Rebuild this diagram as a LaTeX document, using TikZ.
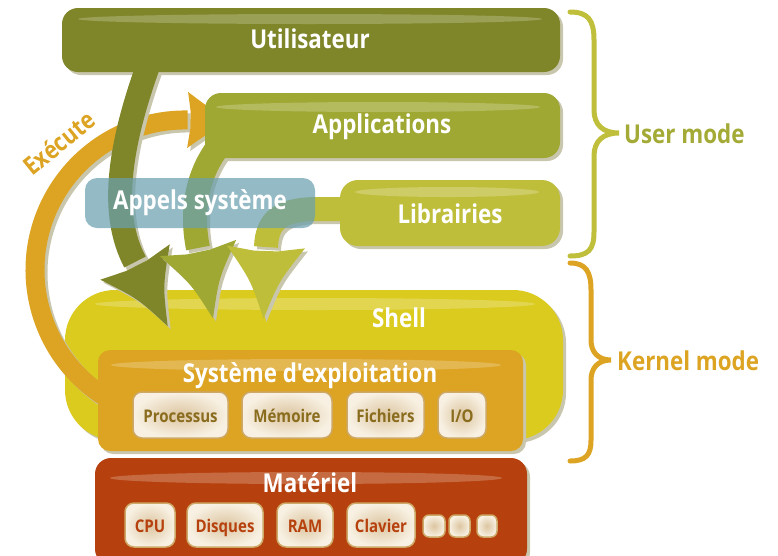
\documentclass[tikz,border=0pt]{standalone}
\usepackage{fontspec}
\newfontfamily\cf[FakeStretch=0.86]{Open Sans}
\usetikzlibrary{calc}
\definecolor{oliveA}{HTML}{7F8629}
\definecolor{oliveB}{HTML}{9FA833}
\definecolor{oliveC}{HTML}{BFBE3B}
\definecolor{appelsc}{HTML}{6AA0AE}
\definecolor{shellc}{HTML}{DBCB1F}
\definecolor{osc}{HTML}{DCA422}
\definecolor{hwc}{HTML}{B7410E}
\definecolor{subin}{HTML}{DCC5A0}
\definecolor{subout}{HTML}{F8F1E3}
\definecolor{subline}{HTML}{CDA866}
\definecolor{ostext}{HTML}{8A6C1E}
\definecolor{shadowc}{HTML}{C9C6AE}
\definecolor{bracec}{HTML}{C0BF3B}
\definecolor{usertext}{HTML}{A3AA35}
\newcommand\pshadow[6]{\node[rectangle, rounded corners=#6pt, fill=shadowc, minimum width=#4pt, minimum height=#5pt, inner sep=0pt] (#1-sh) at (#2+3,#3+3) {};}
\newcommand\pbox[7]{\node[rectangle, rounded corners=#6pt, fill=#7, minimum width=#4pt, minimum height=#5pt, inner sep=0pt] (#1) at (#2,#3) {};}
\newcommand\gloss[4]{\fill[white, opacity=0.22] (#1,#2) ellipse [x radius=#3, y radius=#4];}
\tikzset{
  ahead/.pic={\path[pic actions] (4,-12) -- (0,-39) .. controls (34,-14) .. (72,0) .. controls (34,14) .. (0,39) -- (4,12) -- cycle;},
  lbl/.style={font=\cf\bfseries\fontsize{26}{26}\selectfont, text=white, anchor=base, inner sep=0pt},
  subbox/.style={rectangle, rounded corners=9pt, draw=subline, line width=1.5pt, shading=radial, inner color=subin, outer color=subout, inner sep=0pt},
  subtxt/.style={font=\cf\bfseries\fontsize{17.5}{17.5}\selectfont, anchor=base, inner sep=0pt},
  shaftline/.style={line width=24pt},
  bracelines/.style={line width=5pt, line cap=round},
}
\begin{document}
\begin{tikzpicture}[x=1pt,y=-1pt]
\useasboundingbox (0,0) rectangle (778,555);
\clip (0,0) rectangle (778,555);
% Shell
\pshadow{shell}{314}{365}{498}{150}{50}
\pbox{shell}{314}{365}{498}{150}{50}{shellc}
\gloss{315}{304}{220}{6}
\node[lbl] (shellt) at (399,327) {Shell};
% Execute arc
\coordinate (ex-s) at (114.6,402.4);
\coordinate (ex-e) at (187.6,120);
\begin{scope}[transform canvas={shift={(3pt,-3pt)}}]
\draw[shadowc, line width=19pt] (ex-s) arc[start angle=118, end angle=271, radius=150];
\pic[rotate=-1, scale=0.72, fill=shadowc] at (ex-e) {ahead};
\end{scope}
\draw[osc, line width=19pt] (ex-s) arc[start angle=118, end angle=271, radius=150];
\pic[rotate=-1, scale=0.72, fill=osc] at (ex-e) {ahead};
% Utilisateur
\coordinate (a1s) at (148,66);
\coordinate (a1e) at (135,262);
\pshadow{user}{311}{40}{498}{64}{16}
\begin{scope}[transform canvas={shift={(3pt,-3pt)}}]
\draw[shaftline, shadowc] (a1s) .. controls (118,150) and (110,215) .. (a1e);
\pic[rotate=-63, fill=shadowc] at (a1e) {ahead};
\end{scope}
\draw[shaftline, oliveA] (a1s) .. controls (118,150) and (110,215) .. (a1e);
\pic[rotate=-63, fill=oliveA] at (a1e) {ahead};
\pbox{user}{311}{40}{498}{64}{16}{oliveA}
\gloss{310}{19}{232}{5}
\node[lbl] (usert) at (310,48) {Utilisateur};
% Applications
\coordinate (a2s) at (224,140);
\coordinate (a2e) at (198,248);
\pshadow{apps}{382.5}{125.5}{355}{65}{16}
\begin{scope}[transform canvas={shift={(3pt,-3pt)}}]
\draw[shaftline, shadowc] (a2s) .. controls (195,172) and (191,214) .. (a2e);
\pic[rotate=-78, fill=shadowc] at (a2e) {ahead};
\end{scope}
\draw[shaftline, oliveB] (a2s) .. controls (195,172) and (191,214) .. (a2e);
\pic[rotate=-78, fill=oliveB] at (a2e) {ahead};
\pbox{apps}{382.5}{125.5}{355}{65}{16}{oliveB}
\gloss{378}{107}{162}{5}
\node[lbl] (appst) at (382,133) {Applications};
% Librairies
\coordinate (a3s) at (345,209);
\coordinate (a3e) at (266,247);
\pshadow{libs}{450}{213}{220}{66}{18}
\begin{scope}[transform canvas={shift={(3pt,-3pt)}}]
\draw[shaftline, shadowc] (a3s) -- (318,209) .. controls (281,209) and (267,220) .. (a3e);
\pic[rotate=-92, fill=shadowc] at (a3e) {ahead};
\end{scope}
\draw[shaftline, oliveC] (a3s) -- (318,209) .. controls (281,209) and (267,220) .. (a3e);
\pic[rotate=-92, fill=oliveC] at (a3e) {ahead};
\pbox{libs}{450}{213}{220}{66}{18}{oliveC}
\gloss{447}{192}{92}{5}
\node[lbl] (libst) at (450,223) {Librairies};
% Appels systeme
\node[rectangle, rounded corners=12pt, fill=appelsc, fill opacity=0.72, minimum width=230pt, minimum height=50pt, inner sep=0pt] (appels) at (200,203) {};
\node[lbl] (appelst) at (200,209) {Appels système};
% Systeme d'exploitation
\pshadow{os}{310.5}{400.5}{425}{101}{12}
\pbox{os}{310.5}{400.5}{425}{101}{12}{osc}
\gloss{306}{365}{195}{6}
\node[lbl] (ost) at (310,382) {Système d'exploitation};
\node[subbox, minimum width=95pt, minimum height=46pt] (proc) at (180.5,415) {};
\node[subtxt, text=ostext] (proct) at (180.5,422) {Processus};
\node[subbox, minimum width=90pt, minimum height=46pt] (mem) at (287,415) {};
\node[subtxt, text=ostext] (memt) at (287,422) {Mémoire};
\node[subbox, minimum width=77pt, minimum height=46pt] (fich) at (385.5,415) {};
\node[subtxt, text=ostext] (ficht) at (385.5,422) {Fichiers};
\node[subbox, minimum width=48pt, minimum height=46pt] (io) at (462,415) {};
\node[subtxt, text=ostext] (iot) at (462,422) {I/O};
% Materiel
\pshadow{hw}{311}{511.5}{432}{107}{16}
\pbox{hw}{311}{511.5}{432}{107}{16}{hwc}
\gloss{306}{478}{196}{6}
\node[lbl] (hwt) at (310,492) {Matériel};
\node[subbox, minimum width=50pt, minimum height=44pt] (cpu) at (150,525) {};
\node[subtxt, text=hwc] (cput) at (150,532) {CPU};
\node[subbox, minimum width=76pt, minimum height=44pt] (disq) at (225,525) {};
\node[subtxt, text=hwc] (disqt) at (225,532) {Disques};
\node[subbox, minimum width=56pt, minimum height=44pt] (ram) at (305,525) {};
\node[subtxt, text=hwc] (ramt) at (305,532) {RAM};
\node[subbox, minimum width=68pt, minimum height=44pt] (clav) at (381,525) {};
\node[subtxt, text=hwc] (clavt) at (381,532) {Clavier};
\node[subbox, rounded corners=6pt, minimum width=22pt, minimum height=22pt] (d1) at (434,526) {};
\node[subbox, rounded corners=6pt, minimum width=21pt, minimum height=22pt] (d2) at (459.5,526) {};
\node[subbox, rounded corners=6pt, minimum width=20pt, minimum height=22pt] (d3) at (487,526) {};
% Execute label
\node[font=\cf\bfseries\fontsize{25}{25}\selectfont, text=osc, rotate=39, inner sep=0pt] (exect) at (59,143) {Exécute};
% Braces
\draw[bracelines, bracec] (570,12) .. controls (588,12) and (594,20) .. (594,40) -- (594,110) .. controls (594,125) and (603,133) .. (619,133) .. controls (603,133) and (594,141) .. (594,156) -- (594,232) .. controls (594,250) and (588,256) .. (570,256);
\draw[bracelines, osc] (570,263) .. controls (586,263) and (591,272) .. (591,290) -- (591,340) .. controls (591,352) and (598,360) .. (611,360) .. controls (598,360) and (591,368) .. (591,380) -- (591,440) .. controls (591,455) and (586,461) .. (570,461);
\node[lbl, text=usertext, anchor=base west] (usermode) at (624,143) {User mode};
\node[lbl, text=osc, anchor=base west] (kernelmode) at (617,370) {Kernel mode};
\end{tikzpicture}
\end{document}
